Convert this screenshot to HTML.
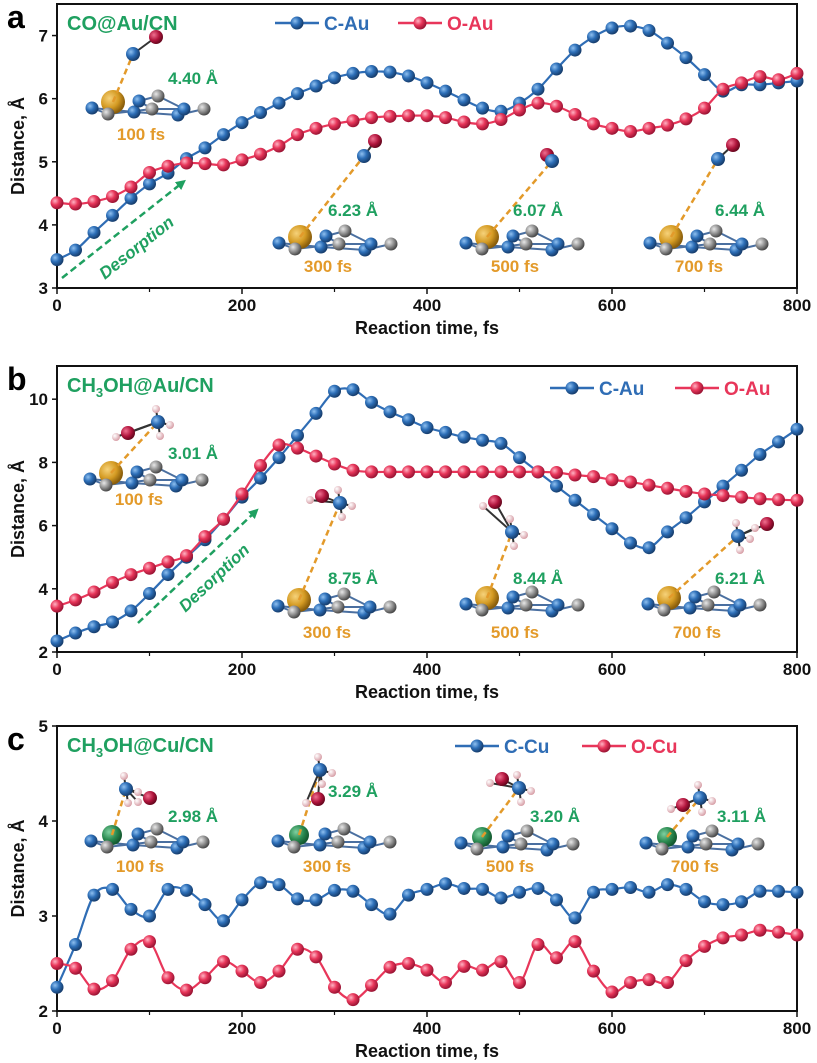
<!DOCTYPE html>
<html><head><meta charset="utf-8"><style>
html,body{margin:0;padding:0;background:#fff;}
svg{display:block;font-family:"Liberation Sans",sans-serif;}
</style></head><body>
<svg id="fig" width="817" height="1063" viewBox="0 0 817 1063" xmlns="http://www.w3.org/2000/svg">
<defs>
<radialGradient id="gb" cx="35%" cy="35%" r="65%"><stop offset="0" stop-color="#8fc0f0"/><stop offset="0.5" stop-color="#2d6fb8"/><stop offset="1" stop-color="#173e6e"/></radialGradient>
<radialGradient id="gr" cx="35%" cy="35%" r="65%"><stop offset="0" stop-color="#ffb3c3"/><stop offset="0.5" stop-color="#e8365a"/><stop offset="1" stop-color="#9c1535"/></radialGradient>
<radialGradient id="gg" cx="35%" cy="35%" r="65%"><stop offset="0" stop-color="#e8e8e8"/><stop offset="0.6" stop-color="#8a8a8a"/><stop offset="1" stop-color="#4a4a4a"/></radialGradient>
<radialGradient id="gau" cx="35%" cy="35%" r="65%"><stop offset="0" stop-color="#f6d27a"/><stop offset="0.6" stop-color="#d49a22"/><stop offset="1" stop-color="#8a5e0c"/></radialGradient>
<radialGradient id="gcu" cx="35%" cy="35%" r="65%"><stop offset="0" stop-color="#7fd0a0"/><stop offset="0.6" stop-color="#2a8a50"/><stop offset="1" stop-color="#145a30"/></radialGradient>
<radialGradient id="gh" cx="35%" cy="35%" r="65%"><stop offset="0" stop-color="#fff"/><stop offset="1" stop-color="#d8a0a8"/></radialGradient>
<radialGradient id="go" cx="35%" cy="35%" r="65%"><stop offset="0" stop-color="#f07090"/><stop offset="0.6" stop-color="#b0143c"/><stop offset="1" stop-color="#6a0820"/></radialGradient>
<marker id="arr" viewBox="0 0 10 10" refX="5" refY="5" markerWidth="4" markerHeight="4" orient="auto"><path d="M0,0L10,5L0,10z" fill="#1fa060"/></marker>
</defs>
</svg>
<script>
// ---- data ----
const times = [0,20,40,60,80,100,120,140,160,180,200,220,240,260,280,300,320,340,360,380,400,420,440,460,480,500,520,540,560,580,600,620,640,660,680,700,720,740,760,780,800];
const aCAu = [3.45,3.6,3.88,4.15,4.42,4.65,4.82,5.05,5.22,5.43,5.62,5.78,5.93,6.08,6.2,6.33,6.4,6.43,6.42,6.36,6.25,6.12,5.98,5.85,5.8,5.93,6.15,6.47,6.77,6.98,7.12,7.15,7.08,6.88,6.65,6.38,6.12,6.22,6.22,6.25,6.28];
const aOAu = [4.35,4.33,4.37,4.45,4.6,4.83,4.93,4.98,4.97,4.95,5.03,5.12,5.25,5.43,5.53,5.6,5.65,5.7,5.72,5.73,5.73,5.7,5.63,5.6,5.67,5.82,5.93,5.88,5.75,5.6,5.53,5.48,5.53,5.58,5.68,5.85,6.15,6.25,6.35,6.3,6.4];
const bCAu = [2.35,2.6,2.8,2.95,3.3,3.85,4.45,5.0,5.55,6.2,6.9,7.5,8.15,8.85,9.55,10.25,10.3,9.9,9.6,9.35,9.1,8.95,8.8,8.7,8.6,8.15,7.7,7.25,6.8,6.35,5.9,5.45,5.3,5.8,6.25,6.75,7.25,7.75,8.25,8.65,9.05];
const bOAu = [3.45,3.65,3.9,4.2,4.45,4.65,4.85,5.05,5.65,6.2,7.0,7.9,8.55,8.45,8.2,7.95,7.75,7.7,7.7,7.7,7.7,7.7,7.7,7.7,7.7,7.7,7.7,7.68,7.6,7.55,7.45,7.38,7.28,7.18,7.08,7.0,6.95,6.9,6.85,6.82,6.8];
const cCCu = [2.25,2.7,3.22,3.28,3.07,3.0,3.28,3.27,3.12,2.95,3.17,3.35,3.33,3.18,3.17,3.27,3.26,3.12,3.02,3.22,3.28,3.34,3.29,3.28,3.19,3.25,3.29,3.17,2.98,3.25,3.28,3.3,3.25,3.33,3.28,3.15,3.12,3.15,3.26,3.26,3.25];
const cOCu = [2.5,2.45,2.23,2.32,2.65,2.73,2.35,2.22,2.35,2.52,2.42,2.3,2.42,2.65,2.57,2.25,2.12,2.27,2.46,2.5,2.43,2.3,2.47,2.43,2.52,2.3,2.7,2.56,2.73,2.42,2.2,2.3,2.33,2.3,2.53,2.68,2.77,2.8,2.85,2.83,2.8];
const xTicks = [0,200,400,600,800];
const aYTicks = [3,4,5,6,7];
const bYTicks = [2,4,6,8,10];
const cYTicks = [2,3,4,5];

const NS="http://www.w3.org/2000/svg";
const svg=document.getElementById('fig');
const BLUE="#2f6db5", RED="#e8365a", GREEN="#1fa060", ORANGE="#e39a2a";
function mk(tag,attrs,parent){const e=document.createElementNS(NS,tag);for(const k in attrs)e.setAttribute(k,attrs[k]);(parent||svg).appendChild(e);return e;}
function txt(s,x,y,attrs,parent){const t=mk('text',Object.assign({x:x,y:y},attrs),parent);t.textContent=s;return t;}
function smooth(pts){let d='M'+pts[0][0]+','+pts[0][1];for(let i=0;i<pts.length-1;i++){const p0=pts[i-1]||pts[i],p1=pts[i],p2=pts[i+1],p3=pts[i+2]||p2;const c1x=p1[0]+(p2[0]-p0[0])/6,c1y=p1[1]+(p2[1]-p0[1])/6,c2x=p2[0]-(p3[0]-p1[0])/6,c2y=p2[1]-(p3[1]-p1[1])/6;d+='C'+c1x+','+c1y+' '+c2x+','+c2y+' '+p2[0]+','+p2[1];}return d;}

function panel(cfg){
  const g=mk('g',{});
  
  
  const x0=57,x1=797;
  const X=t=>x0+(t/800)*(x1-x0);
  const Y=v=>cfg.yb+(v-cfg.ymin)/(cfg.ymax-cfg.ymin)*(cfg.yt-cfg.yb);
  const fr=mk('rect',{x:x0,y:cfg.yt,width:x1-x0,height:cfg.yb-cfg.yt,fill:'none',stroke:'#111','stroke-width':2},g);
  
  
  xTicks.forEach(t=>{
    mk('line',{x1:X(t),x2:X(t),y1:cfg.yb,y2:cfg.yb+6,stroke:'#111','stroke-width':1.5},g);
    const lb=txt(String(t),X(t),cfg.yb+23,{'text-anchor':'middle','font-size':17,'font-weight':'bold',fill:'#111'},g);
    
    
  });
  for(let t=100;t<800;t+=200) mk('line',{x1:X(t),x2:X(t),y1:cfg.yb,y2:cfg.yb+4,stroke:'#111','stroke-width':1.2},g);
  cfg.yticks.forEach(v=>{
    mk('line',{x1:x0-5,x2:x0,y1:Y(v),y2:Y(v),stroke:'#111','stroke-width':1.5},g);
    const lb=txt(String(v),x0-9,Y(v)+6,{'text-anchor':'end','font-size':17,'font-weight':'bold',fill:'#111'},g);
    
    
  });
  const xt=txt('Reaction time, fs',427,cfg.yb+46,{'text-anchor':'middle','font-size':18,'font-weight':'bold',fill:'#111'},g);
  
  
  const yc=(cfg.yt+cfg.yb)/2;
  const yt=txt('Distance, Å',24,yc,{'text-anchor':'middle','font-size':18,'font-weight':'bold',fill:'#111',transform:'rotate(-90 24 '+yc+')'},g);
  
  
  const pl=txt(cfg.letter,7,cfg.yt+24,{'font-size':32,'font-weight':'bold',fill:'#000'},g);
  
  
  const ti=mk('text',{x:67,y:cfg.yt+26,'font-size':20,'font-weight':'bold',fill:GREEN},g);
  
  
  ti.innerHTML=cfg.title;
  cfg.insets.forEach(ins=>drawInset(g,ins,cfg));
  cfg.series.forEach(s=>{
    const pts=times.map((t,i)=>[X(t),Y(s.vals[i])]);
    const p=mk('path',{d:smooth(pts),fill:'none',stroke:s.color,'stroke-width':2.2},g);
    
    
    pts.forEach(q=>{
      const c=mk('circle',{cx:q[0],cy:q[1],r:6.5,fill:s.grad},g);
      
      
    });
  });
  cfg.series.forEach((s,i)=>{
    const lx=cfg.leg[i];const ly=cfg.yt+cfg.legY;
    const lg=mk('g',{},g);
    
    
    mk('line',{x1:lx,x2:lx+44,y1:ly,y2:ly,stroke:s.color,'stroke-width':2.5},lg);
    mk('circle',{cx:lx+22,cy:ly,r:6.5,fill:s.grad},lg);
    txt(s.label,lx+49,ly+7,{'font-size':19,'font-weight':'bold',fill:s.color},lg);
  });
  if(cfg.arrow){
    const a=cfg.arrow;
    const ar=mk('line',{x1:a[0],y1:a[1],x2:a[2],y2:a[3],stroke:GREEN,'stroke-width':2.5,'stroke-dasharray':'7,4','marker-end':'url(#arr)'},g);
    
    
    const ang=Math.atan2(a[3]-a[1],a[2]-a[0])*180/Math.PI;
    const dt=txt('Desorption',a[4],a[5],{'font-size':17,'font-weight':'bold','font-style':'italic',fill:GREEN,'text-anchor':'middle',transform:'rotate('+ang+' '+a[4]+' '+a[5]+')'},g);
    
    
  }
}

const slab=[[-21,6,'gb'],[-5,12,'gg'],[21,10,'gb'],[26,-1,'gb'],[39,7,'gg'],[45,-6,'gg'],[65,13,'gb'],[71,7,'gb'],[91,7,'gg']];
function drawInset(g,ins,cfg){
  const ig=mk('g',{},g);
  
  
  const ax=ins.x,ay=ins.y;
  const bonds=[[0,2],[2,6],[6,8],[0,1],[1,4],[4,7],[3,5],[5,7],[3,4],[2,3]];
  bonds.forEach(b=>{const p=slab[b[0]],q=slab[b[1]];mk('line',{x1:ax+p[0],y1:ay+p[1],x2:ax+q[0],y2:ay+q[1],stroke:'#4a6fa0','stroke-width':2},ig);});
  mk('circle',{cx:ax,cy:ay,r:cfg.metal==='cu'?10:12,fill:cfg.metal==='cu'?'url(#gcu)':'url(#gau)'},ig);
  slab.forEach(s=>mk('circle',{cx:ax+s[0],cy:ay+s[1],r:6.5,fill:'url(#'+s[2]+')'},ig));
  const m=ins.mol;
  mk('line',{x1:ax,y1:ay,x2:m[0][0],y2:m[0][1],stroke:ORANGE,'stroke-width':2.5,'stroke-dasharray':'6,4'},ig);
  m.forEach((a,i)=>{if(i>0)mk('line',{x1:m[0][0],y1:m[0][1],x2:a[0],y2:a[1],stroke:'#333','stroke-width':2},ig);});
  m.slice().reverse().forEach(a=>mk('circle',{cx:a[0],cy:a[1],r:a[2]==='gh'?4:7,fill:'url(#'+a[2]+')'},ig));
  const d=txt(ins.dist,ins.dx,ins.dy,{'font-size':17,'font-weight':'bold',fill:GREEN},ig);
  
  
  const f=txt(ins.fs,ins.x+28,ins.fy,{'font-size':17,'font-weight':'bold',fill:ORANGE,'text-anchor':'middle'},ig);
  
  
}

function co(cx,cy,ox,oy){return [[cx,cy,'gb'],[ox,oy,'go']];}
function meoh(cx,cy,ox,oy){return [[cx,cy,'gb'],[ox,oy,'go'],[cx-2,cy-13,'gh'],[cx+12,cy+3,'gh'],[cx+2,cy+14,'gh'],[ox-12,oy+4,'gh']];}

panel({name:'panel-a',letter:'a',title:'CO@Au/CN',yt:4,yb:288,ymin:3,ymax:7.5,yticks:aYTicks,metal:'au',legY:19,leg:[275,398],
  series:[{key:'c-au',label:'C-Au',vals:aCAu,color:BLUE,grad:'url(#gb)'},{key:'o-au',label:'O-Au',vals:aOAu,color:RED,grad:'url(#gr)'}],
  arrow:[62,278,182,183,140,252],
  insets:[{x:113,y:102,mol:co(133,54,156,37),dist:'4.40 Å',dx:168,dy:84,fs:'100 fs',fy:140},
          {x:300,y:237,mol:co(364,156,375,141),dist:'6.23 Å',dx:328,dy:216,fs:'300 fs',fy:272},
          {x:487,y:237,mol:co(552,161,547,155),dist:'6.07 Å',dx:513,dy:216,fs:'500 fs',fy:272},
          {x:671,y:237,mol:co(718,159,733,145),dist:'6.44 Å',dx:715,dy:216,fs:'700 fs',fy:272}]});

panel({name:'panel-b',letter:'b',title:'CH<tspan font-size="13" dy="5">3</tspan><tspan dy="-5">OH@Au/CN</tspan>',yt:366,yb:652,ymin:2,ymax:11.05,yticks:bYTicks,metal:'au',legY:22,leg:[550,675],
  series:[{key:'c-au',label:'C-Au',vals:bCAu,color:BLUE,grad:'url(#gb)'},{key:'o-au',label:'O-Au',vals:bOAu,color:RED,grad:'url(#gr)'}],
  arrow:[138,623,255,512,218,582],
  insets:[{x:111,y:473,mol:meoh(158,422,128,433),dist:'3.01 Å',dx:168,dy:459,fs:'100 fs',fy:505},
          {x:299,y:600,mol:meoh(340,503,322,496),dist:'8.75 Å',dx:328,dy:584,fs:'300 fs',fy:638},
          {x:487,y:598,mol:meoh(512,532,495,502),dist:'8.44 Å',dx:513,dy:584,fs:'500 fs',fy:638},
          {x:669,y:598,mol:meoh(738,536,767,524),dist:'6.21 Å',dx:715,dy:584,fs:'700 fs',fy:638}]});

panel({name:'panel-c',letter:'c',title:'CH<tspan font-size="13" dy="5">3</tspan><tspan dy="-5">OH@Cu/CN</tspan>',yt:726,yb:1011,ymin:2,ymax:5,yticks:cYTicks,metal:'cu',legY:20,leg:[455,582],
  series:[{key:'c-cu',label:'C-Cu',vals:cCCu,color:BLUE,grad:'url(#gb)'},{key:'o-cu',label:'O-Cu',vals:cOCu,color:RED,grad:'url(#gr)'}],
  arrow:null,
  insets:[{x:112,y:835,mol:meoh(126,789,150,798),dist:'2.98 Å',dx:168,dy:822,fs:'100 fs',fy:872},
          {x:299,y:835,mol:meoh(320,770,318,799),dist:'3.29 Å',dx:328,dy:797,fs:'300 fs',fy:872},
          {x:482,y:837,mol:meoh(519,788,502,779),dist:'3.20 Å',dx:530,dy:822,fs:'500 fs',fy:872},
          {x:667,y:837,mol:meoh(700,798,683,805),dist:'3.11 Å',dx:717,dy:822,fs:'700 fs',fy:872}]});
</script>
</body></html>
